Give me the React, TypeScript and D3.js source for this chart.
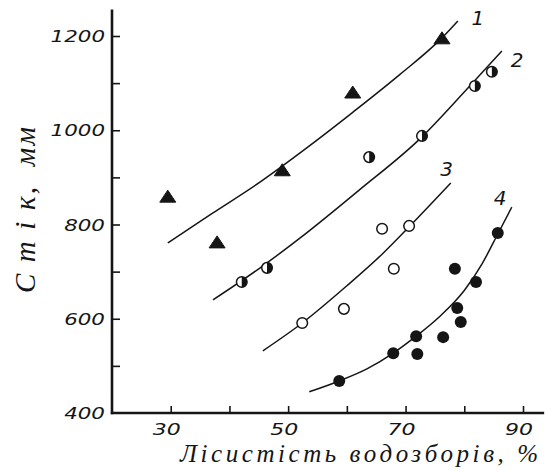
import React, { useRef, useEffect } from "react";
import * as d3 from "d3";

// axis ticks (x = forest cover %, y = runoff mm)
const xTicks = [30, 40, 50, 60, 70, 80, 90];
const xLabels = [30, 50, 70, 90];
const yTicks = [500, 600, 700, 800, 900, 1000, 1100, 1200];
const yLabels = [400, 600, 800, 1000, 1200];

// group 1 — filled triangles
const pts1 = [[29.5, 858], [37.9, 761], [49, 914], [61, 1079], [76.2, 1194]];
const curve1 = [[29.5, 761], [37, 823], [45.2, 890], [53, 961], [61, 1038], [69, 1118], [76.2, 1196], [78.9, 1232]];
// group 2 — half filled circles
const pts2 = [[42.1, 678], [46.4, 708], [63.8, 943], [72.8, 988], [81.8, 1094], [84.7, 1124]];
const curve2 = [[37.2, 640], [45, 706], [52, 771], [62, 872], [72.8, 986], [80, 1081], [86.4, 1168]];
// group 3 — open circles
const pts3 = [[52.4, 591], [59.5, 621], [66, 791], [68, 706], [70.6, 797]];
const curve3 = [[45.7, 532], [52.4, 591], [60, 670], [66, 737], [70.6, 795], [77.7, 888]];
// group 4 — filled circles
const pts4 = [[58.7, 468], [67.9, 527], [71.8, 563], [72, 525], [76.4, 561], [78.4, 706], [78.8, 623], [79.4, 593], [82, 678], [85.7, 782]];
const curve4 = [[53.6, 445], [58.7, 468], [63.5, 494], [67.9, 527], [71.8, 563], [76, 607], [80, 660], [83, 716], [85.8, 782], [88.1, 837]];

const curveNames = ["1", "2", "3", "4"];
const curveNameAt = [[82.3, 1238], [89, 1149], [77, 918], [86.1, 856]];

export default function App() {
  const svgRef = useRef<SVGSVGElement>(null);

  useEffect(() => {
    const svg = d3.select(svgRef.current);
    svg.selectAll("*").remove();
    const ink = "#151515";
    const x = d3.scaleLinear().domain([20, 90]).range([112, 523]);
    const y = d3.scaleLinear().domain([400, 1200]).range([413, 36]);

    // axes: ticks point inward
    svg.append("g")
      .attr("transform", `translate(${x(20)},0)`)
      .call(d3.axisLeft(y).tickValues(yTicks).tickSize(-8).tickFormat(() => ""))
      .call(g => g.select(".domain").remove())
      .selectAll("line").attr("stroke", ink).attr("stroke-width", 1.6);
    svg.append("g")
      .attr("transform", `translate(0,${y(400)})`)
      .call(d3.axisBottom(x).tickValues(xTicks).tickSize(-7).tickFormat(() => ""))
      .call(g => g.select(".domain").remove())
      .selectAll("line").attr("stroke", ink).attr("stroke-width", 1.6);

    svg.append("line")
      .attr("x1", x(20)).attr("x2", x(20))
      .attr("y1", y(400) + 1.2).attr("y2", y(1256))
      .attr("stroke", ink).attr("stroke-width", 2.6);
    svg.append("line")
      .attr("x1", x(20) - 1.2).attr("x2", x(93.6))
      .attr("y1", y(400)).attr("y2", y(400))
      .attr("stroke", ink).attr("stroke-width", 2.6);

    const tickFont = "'DejaVu Sans', sans-serif";
    svg.selectAll("text.ylab").data(yLabels).enter().append("text")
      .attr("class", "ylab")
      .attr("x", x(20) - 7).attr("y", d => y(d) + 6)
      .attr("text-anchor", "end")
      .attr("textLength", d => String(d).length * 13.6)
      .attr("lengthAdjust", "spacingAndGlyphs")
      .style("font-family", tickFont).style("font-style", "italic")
      .style("font-size", "15px").style("fill", ink)
      .text(d => d);
    svg.selectAll("text.xlab").data(xLabels).enter().append("text")
      .attr("class", "xlab")
      .attr("x", d => x(d) - 4).attr("y", y(400) + 22)
      .attr("text-anchor", "middle")
      .attr("textLength", d => String(d).length * 14)
      .attr("lengthAdjust", "spacingAndGlyphs")
      .style("font-family", tickFont).style("font-style", "italic")
      .style("font-size", "15px").style("fill", ink)
      .text(d => d);

    // axis titles
    const titleFont = "'Liberation Serif', serif";
    svg.append("text")
      .attr("x", 180).attr("y", 462)
      .attr("textLength", 358).attr("lengthAdjust", "spacing")
      .style("font-family", titleFont).style("font-style", "italic")
      .style("font-size", "25px").style("fill", ink)
      .text("Лісистість водозборів, %");
    svg.append("text")
      .attr("transform", "translate(35,210) rotate(-90)")
      .attr("text-anchor", "middle")
      .attr("textLength", 166).attr("lengthAdjust", "spacing")
      .style("white-space", "pre")
      .style("font-family", titleFont).style("font-style", "italic")
      .style("font-size", "29px").style("fill", ink)
      .text("С т і к,  мм");

    // fitted curves
    const line = d3.line<number[]>()
      .x(d => x(d[0])).y(d => y(d[1]))
      .curve(d3.curveMonotoneX);
    [curve1, curve2, curve3, curve4].forEach(c => {
      svg.append("path")
        .attr("d", line(c))
        .attr("fill", "none").attr("stroke", ink).attr("stroke-width", 1.5);
    });

    // curve numbers
    svg.selectAll("text.cname").data(curveNames).enter().append("text")
      .attr("class", "cname")
      .attr("x", (d, i) => x(curveNameAt[i][0]))
      .attr("y", (d, i) => y(curveNameAt[i][1]) + 7)
      .attr("text-anchor", "middle")
      .style("font-family", tickFont).style("font-style", "italic")
      .style("font-size", "20px").style("fill", ink)
      .text(d => d);

    // markers
    svg.selectAll("path.tri").data(pts1).enter().append("path")
      .attr("class", "tri")
      .attr("transform", d => `translate(${x(d[0])},${y(d[1])})`)
      .attr("d", "M-8,5L8,5L0,-7Z")
      .attr("fill", ink).attr("stroke", ink).attr("stroke-width", 1);

    const half = svg.selectAll("g.half").data(pts2).enter().append("g")
      .attr("class", "half")
      .attr("transform", d => `translate(${x(d[0])},${y(d[1])})`);
    half.append("circle").attr("r", 5.3)
      .attr("fill", "#fff").attr("stroke", ink).attr("stroke-width", 1.5);
    half.append("path").attr("d", "M0,-5.3A5.3,5.3 0 0 1 0,5.3Z").attr("fill", ink);

    svg.selectAll("circle.open").data(pts3).enter().append("circle")
      .attr("class", "open")
      .attr("cx", d => x(d[0])).attr("cy", d => y(d[1])).attr("r", 5.3)
      .attr("fill", "#fff").attr("stroke", ink).attr("stroke-width", 1.5);

    svg.selectAll("circle.full").data(pts4).enter().append("circle")
      .attr("class", "full")
      .attr("cx", d => x(d[0])).attr("cy", d => y(d[1])).attr("r", 6)
      .attr("fill", ink);
  }, []);

  return (
    <svg ref={svgRef} width={546} height={470}
      style={{ position: "absolute", left: 0, top: 0, background: "#fff" }} />
  );
}
